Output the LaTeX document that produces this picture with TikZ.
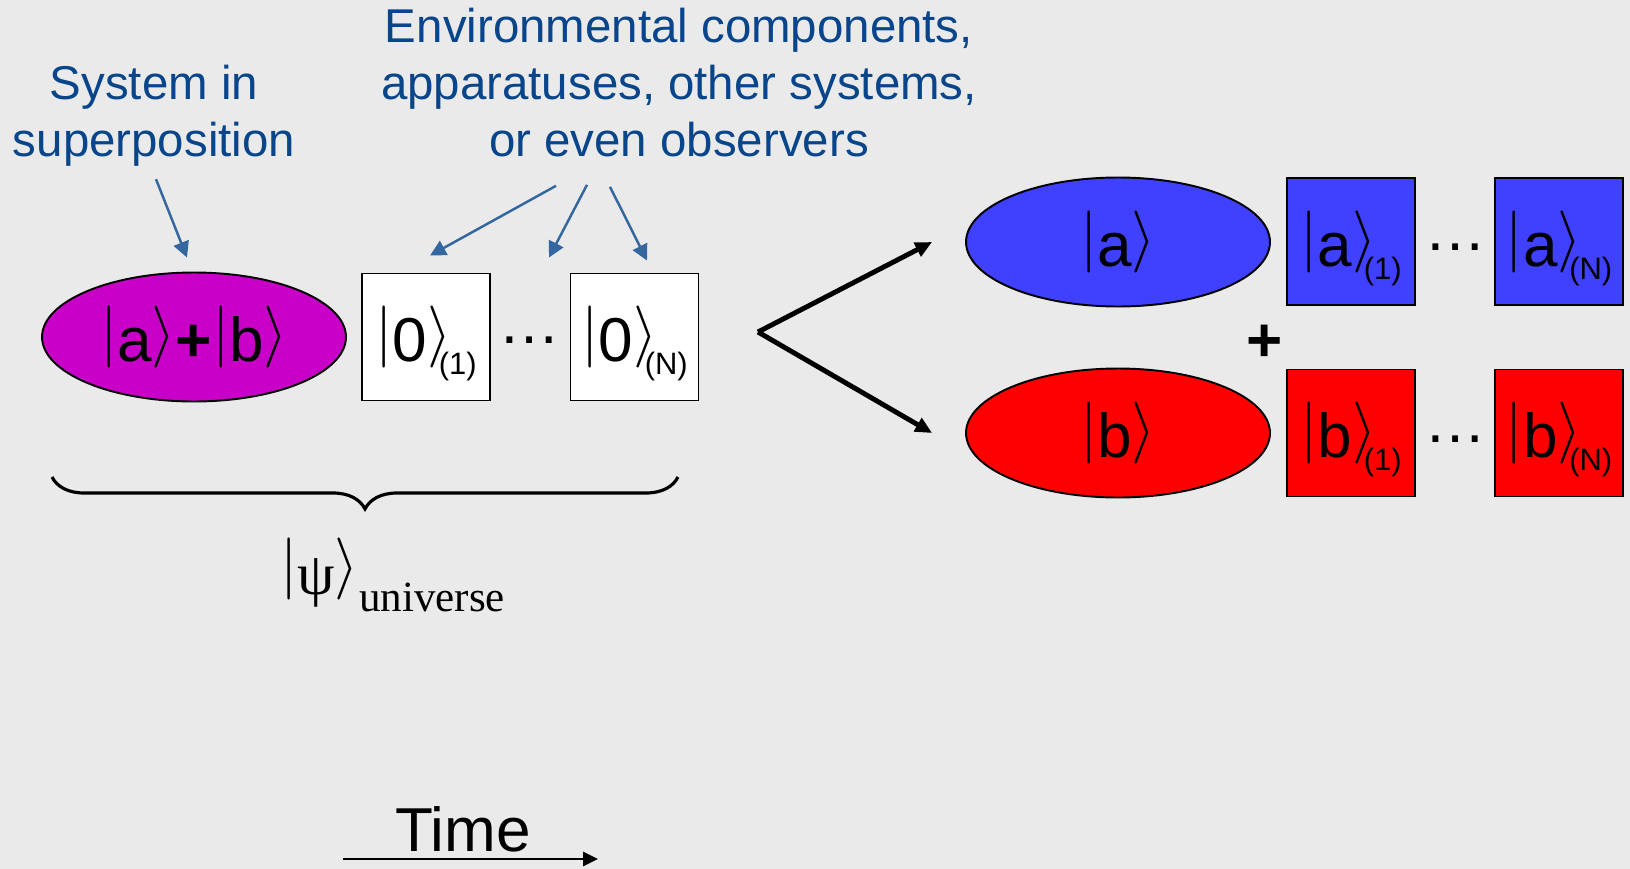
\RequirePackage{fix-cm}
\documentclass[tikz,border=0pt]{standalone}
\usepackage{fontspec}
\setmainfont{Liberation Sans}
\newfontfamily\timesfont{Liberation Serif}
\usetikzlibrary{arrows.meta,shapes.geometric,decorations.pathreplacing}

\definecolor{slide}{RGB}{234,234,234}
\definecolor{caption}{RGB}{8,69,139}
\definecolor{pointer}{RGB}{52,103,160}
\definecolor{mixed}{RGB}{200,0,200}
\definecolor{branchA}{RGB}{64,64,255}
\definecolor{branchB}{RGB}{255,0,0}

\newcommand{\ketfont}{\fontsize{35.3}{40}\selectfont}
\newcommand{\notefont}{\fontsize{27}{32.4}\selectfont}
\newcommand{\ket}[1]{\raisebox{.15em}{$|$}#1\raisebox{.15em}{$\rangle$}}
\newcommand{\ketsub}[1]{\kern-.2em\raisebox{-.21em}{\fontsize{17.6}{20}\selectfont #1}}

\begin{document}
\begin{tikzpicture}[x=0.02cm,y=-0.02cm]
	\tikzstyle{system}=[ellipse,draw=black,line width=1.1pt,minimum width=6.08cm,minimum height=2.58cm,inner sep=0pt,text height=31.8pt,text depth=3.5pt,font=\ketfont]
	\tikzstyle{env}=[rectangle,draw=black,line width=1.1pt,minimum width=2.56cm,minimum height=2.54cm,inner sep=0pt,text height=31.8pt,text depth=3.5pt,font=\ketfont]
	\tikzstyle{dots}=[inner sep=0pt,anchor=base,font=\ketfont]
	\tikzstyle{note}=[inner sep=0pt,anchor=base,align=center,text=caption,font=\notefont]
	\tikzstyle{pointer}=[draw=pointer,line width=1.4pt,-{Triangle[length=9pt,width=9pt]}]
	\tikzstyle{split}=[draw,line width=2.8pt,-{Triangle[length=9.5pt,width=8.5pt]}]
	\path[use as bounding box,fill=slide] (0,0) rectangle (1630,869);
	\begin{scope}
		\node [system,fill=mixed] (sys) at (194,337) {\ket{a}\textbf{+}\ket{b}};
		\node [env,fill=white] (env1) at (426,337) {\ket{0}\ketsub{(1)}};
		\node [dots] (envdots) at (530,343) {…};
		\node [env,fill=white] (envN) at (634.5,337) {\ket{0}\ketsub{(N)}};
		\node [note] (sysnote) at (154,156) {System in\\superposition};
		\node [note] (envnote) at (679,156) {Environmental components,\\apparatuses, other systems,\\or even observers};
		\path[pointer] ([shift={(2,13)}]sysnote.south) -- ([shift={(-7,-14)}]sys.north);
		\path[pointer] ([shift={(-123,29)}]envnote.south) -- ([shift={(4,-17)}]env1.north);
		\path[pointer] ([shift={(-92,28)}]envnote.south) -- ([shift={(58,-15)}]env1.north east);
		\path[pointer] ([shift={(-69,30)}]envnote.south) -- ([shift={(12.5,-12)}]envN.north);
	\end{scope}
	\begin{scope}
		\coordinate (braceL) at (52,477);
		\coordinate (braceR) at (678,477);
		\draw[line width=1.8pt,decorate,decoration={brace,mirror,amplitude=0.64cm}] (braceL) -- (braceR);
		\node [inner sep=0pt,anchor=base west,font=\ketfont] (psi) at (280,594) {\ket{{\timesfont\fontsize{34}{34}\selectfont ψ}}\raisebox{-.29em}{\timesfont\fontsize{24.5}{28}\selectfont universe}};
	\end{scope}
	\begin{scope}
		\coordinate (fork) at (758,332);
		\node [system,fill=branchA] (sysA) at (1118,242) {\ket{a}};
		\node [env,fill=branchA] (envA1) at (1351,241.5) {\ket{a}\ketsub{(1)}};
		\node [dots] (Adots) at (1455,250.5) {…};
		\node [env,fill=branchA] (envAN) at (1559,241.5) {\ket{a}\ketsub{(N)}};
		\node [inner sep=0pt,font=\ketfont] (sum) at (1265,343) {\textbf{+}};
		\node [system,fill=branchB] (sysB) at (1118,433) {\ket{b}};
		\node [env,fill=branchB] (envB1) at (1351,433) {\ket{b}\ketsub{(1)}};
		\node [dots] (Bdots) at (1455,442.5) {…};
		\node [env,fill=branchB] (envBN) at (1559,433) {\ket{b}\ketsub{(N)}};
		\path[split] (fork) -- ([shift={(-33,0)}]sysA.west);
		\path[split] (fork) -- ([shift={(-33,0)}]sysB.west);
	\end{scope}
	\node [inner sep=0pt,anchor=base,font=\ketfont] (time) at (463,851) {Time};
	\path[draw,line width=1.5pt,-{Triangle[length=8.5pt,width=8pt]}] ([shift={(-120,8)}]time.base) -- ([shift={(135,8)}]time.base);
\end{tikzpicture}
\end{document}
